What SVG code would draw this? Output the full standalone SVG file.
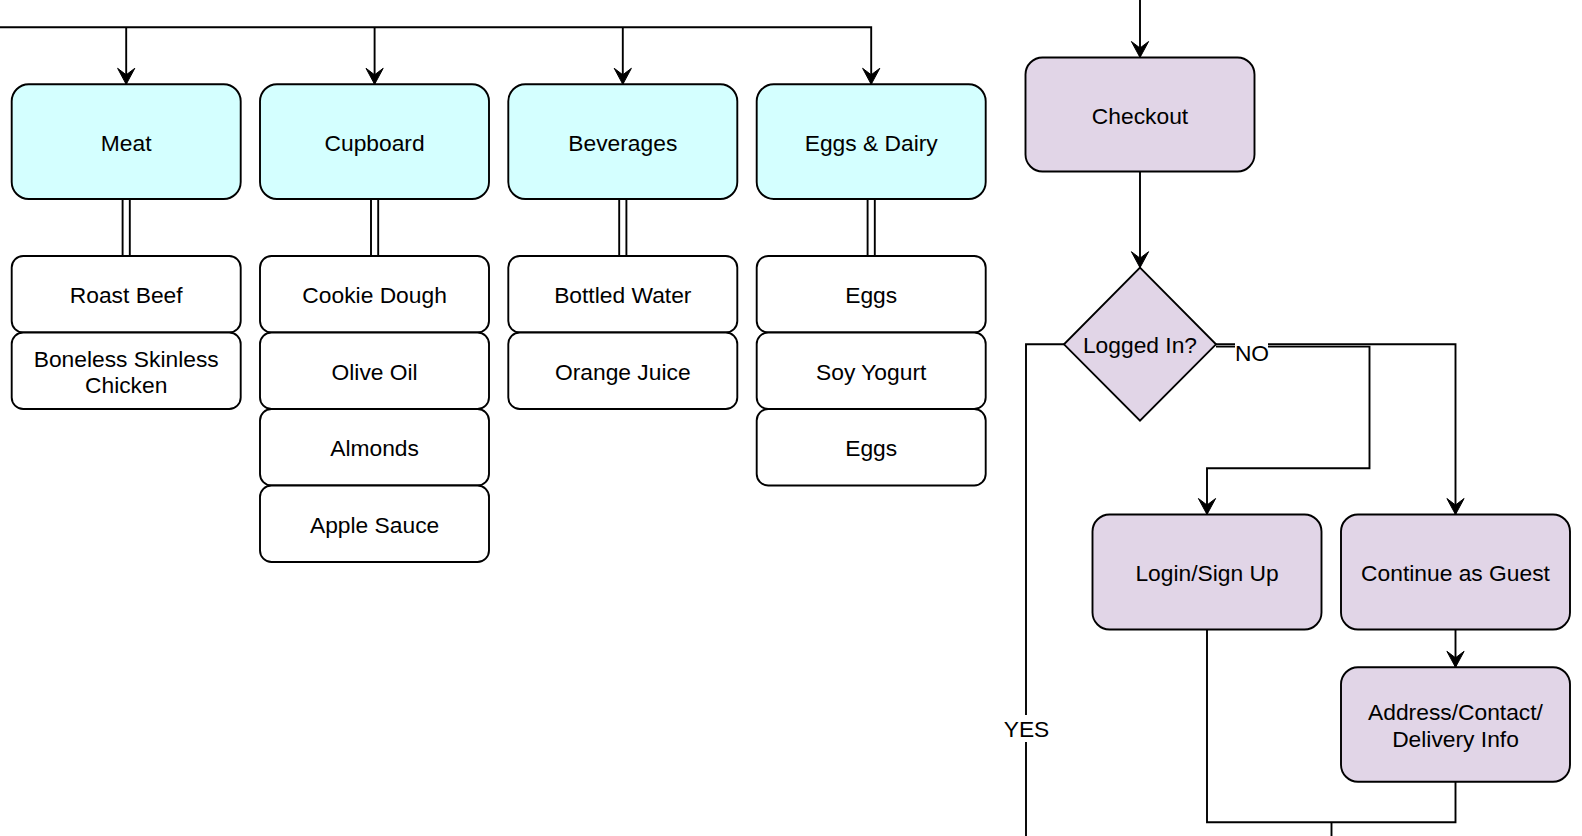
<svg xmlns="http://www.w3.org/2000/svg" width="1582" height="836" viewBox="0 0 1582 836">
<style>
text{font-family:"Liberation Sans",Arial,Helvetica,sans-serif;font-size:22.8px;fill:#000;text-anchor:middle}
.cat{fill:#d4ffff;stroke:#000;stroke-width:1.9}
.item{fill:#fff;stroke:#000;stroke-width:1.9}
.pur{fill:#e1d5e7;stroke:#000;stroke-width:1.9}
.ln{fill:none;stroke:#000;stroke-width:1.9}
.dbl{fill:#fff;stroke:#000;stroke-width:1.9}
.lbl{fill:#fff;stroke:none}
</style>
<defs>
<marker id="arr" markerUnits="userSpaceOnUse" markerWidth="20" markerHeight="20" viewBox="-18 -10 20 20" refX="0" refY="0" orient="auto">
<path d="M0,0 L-16,-8.6 L-9.5,0 L-16,8.6 Z" fill="#000" stroke="#000" stroke-width="1"/>
</marker>
</defs>
<rect width="1582" height="836" fill="#fff"/>
<g id="connectors">
<path class="ln" d="M0,27.3 H871.2 V84.3" marker-end="url(#arr)"/>
<path class="ln" d="M126.2,27.3 V84.3" marker-end="url(#arr)"/>
<path class="ln" d="M374.6,27.3 V84.3" marker-end="url(#arr)"/>
<path class="ln" d="M622.8,27.3 V84.3" marker-end="url(#arr)"/>
<rect class="dbl" x="122.6" y="199" width="7.2" height="57"/>
<rect class="dbl" x="371" y="199" width="7.2" height="57"/>
<rect class="dbl" x="619.2" y="199" width="7.2" height="57"/>
<rect class="dbl" x="867.6" y="199" width="7.2" height="57"/>
<path class="ln" d="M1140,0 V57.5" marker-end="url(#arr)"/>
<path class="ln" d="M1140,171.5 V267.7" marker-end="url(#arr)"/>
<path class="ln" d="M1216,344.3 H1455.5 V514.5" marker-end="url(#arr)"/>
<path class="ln" d="M1216,346.6 H1369.5 V468.3 H1207 V514.5" marker-end="url(#arr)"/>
<path class="ln" d="M1064,344.3 H1026 V836"/>
<path class="ln" d="M1455.5,629.5 V667.3" marker-end="url(#arr)"/>
<path class="ln" d="M1207,629.5 V822.3 H1455.5 V781.7"/>
<path class="ln" d="M1331.5,822.3 V836"/>
<rect class="lbl" x="1235" y="340" width="33" height="24"/>
<text x="1252" y="360.5">NO</text>
<rect class="lbl" x="1003" y="715" width="46" height="27"/>
<text x="1026.5" y="736.5">YES</text>
</g>
<g id="meat"><rect class="cat" x="11.7" y="84.3" width="229" height="114.7" rx="17"/><text x="126.2" y="151">Meat</text></g>
<g id="cupboard"><rect class="cat" x="260" y="84.3" width="229" height="114.7" rx="17"/><text x="374.6" y="151">Cupboard</text></g>
<g id="beverages"><rect class="cat" x="508.3" y="84.3" width="229" height="114.7" rx="17"/><text x="622.8" y="151">Beverages</text></g>
<g id="eggs-dairy"><rect class="cat" x="756.7" y="84.3" width="229" height="114.7" rx="17"/><text x="871.2" y="151">Eggs &amp; Dairy</text></g>
<g id="roast-beef"><rect class="item" x="11.7" y="256" width="229" height="76.5" rx="11.5"/><text x="126.2" y="303.3">Roast Beef</text></g>
<g id="chicken"><rect class="item" x="11.7" y="332.5" width="229" height="76.5" rx="11.5"/><text x="126.2" y="366.7">Boneless Skinless</text><text x="126.2" y="392.7">Chicken</text></g>
<g id="cookie-dough"><rect class="item" x="260" y="256" width="229" height="76.5" rx="11.5"/><text x="374.6" y="303.3">Cookie Dough</text></g>
<g id="olive-oil"><rect class="item" x="260" y="332.5" width="229" height="76.5" rx="11.5"/><text x="374.6" y="379.8">Olive Oil</text></g>
<g id="almonds"><rect class="item" x="260" y="409" width="229" height="76.5" rx="11.5"/><text x="374.6" y="456.3">Almonds</text></g>
<g id="apple-sauce"><rect class="item" x="260" y="485.5" width="229" height="76.5" rx="11.5"/><text x="374.6" y="532.8">Apple Sauce</text></g>
<g id="bottled-water"><rect class="item" x="508.3" y="256" width="229" height="76.5" rx="11.5"/><text x="622.8" y="303.3">Bottled Water</text></g>
<g id="orange-juice"><rect class="item" x="508.3" y="332.5" width="229" height="76.5" rx="11.5"/><text x="622.8" y="379.8">Orange Juice</text></g>
<g id="eggs1"><rect class="item" x="756.7" y="256" width="229" height="76.5" rx="11.5"/><text x="871.2" y="303.3">Eggs</text></g>
<g id="soy-yogurt"><rect class="item" x="756.7" y="332.5" width="229" height="76.5" rx="11.5"/><text x="871.2" y="379.8">Soy Yogurt</text></g>
<g id="eggs2"><rect class="item" x="756.7" y="409" width="229" height="76.5" rx="11.5"/><text x="871.2" y="456.3">Eggs</text></g>
<g id="checkout"><rect class="pur" x="1025.5" y="57.5" width="229" height="114" rx="17"/><text x="1140" y="124">Checkout</text></g>
<g id="logged-in"><polygon class="pur" points="1140,267.7 1216,344.3 1140,420.7 1064,344.3"/><text x="1140" y="352.5">Logged In?</text></g>
<g id="login"><rect class="pur" x="1092.5" y="514.5" width="229" height="115" rx="17"/><text x="1207" y="581">Login/Sign Up</text></g>
<g id="guest"><rect class="pur" x="1341" y="514.5" width="229" height="115" rx="17"/><text x="1455.5" y="581">Continue as Guest</text></g>
<g id="address"><rect class="pur" x="1341" y="667.3" width="229" height="114.4" rx="17"/><text x="1455.5" y="720">Address/Contact/</text><text x="1455.5" y="746.5">Delivery Info</text></g>
</svg>
